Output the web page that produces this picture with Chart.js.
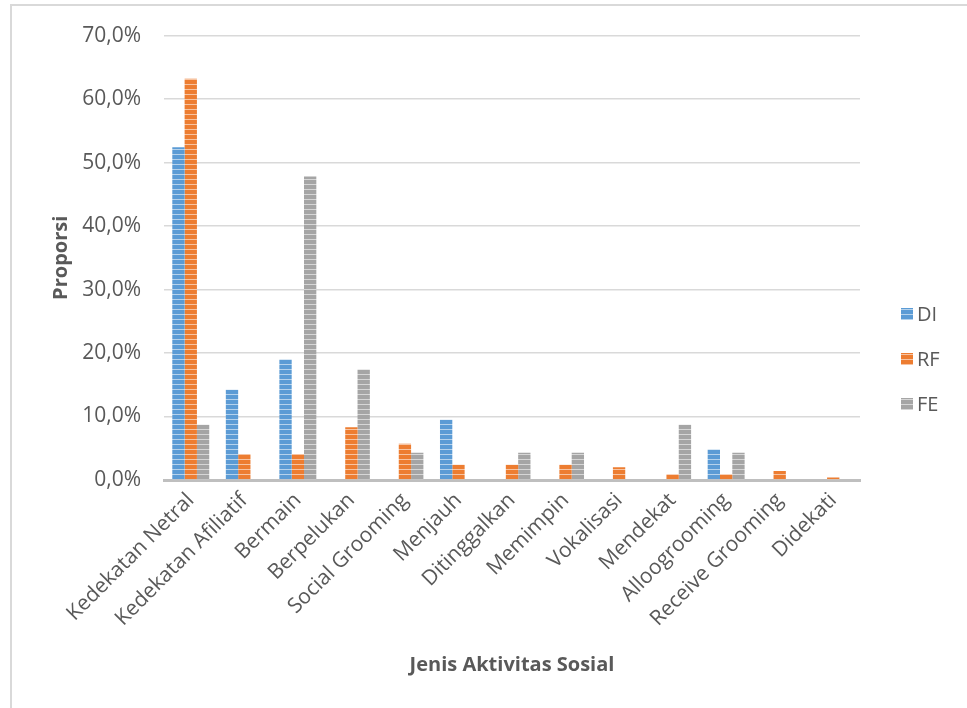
<!DOCTYPE html>
<html>
<head>
<meta charset="utf-8">
<script src="https://cdn.jsdelivr.net/npm/chart.js@4"></script>
<style>
html,body{margin:0;padding:0;background:#fff;}
#wrap{position:relative;width:967px;height:708px;}
canvas{display:block;}
</style>
</head>
<body>
<div id="wrap"><canvas id="c" width="967" height="708"></canvas></div>
<script>
const categories = ["Kedekatan Netral","Kedekatan Afiliatif","Bermain","Berpelukan","Social Grooming","Menjauh","Ditinggalkan","Memimpin","Vokalisasi","Mendekat","Alloogrooming","Receive Grooming","Didekati"];
const seriesNames = ["DI","RF","FE"];
const valuesDI = [52.4, 14.2, 19.0, 0, 0, 9.5, 0, 0, 0, 0, 4.8, 0, 0];
const valuesRF = [63.2, 4.1, 4.1, 8.3, 5.7, 2.4, 2.4, 2.4, 2.0, 0.9, 0.9, 1.4, 0.4];
const valuesFE = [8.7, 0, 47.8, 17.4, 4.3, 0, 4.3, 4.3, 0, 8.7, 4.3, 0, 0];
const yTicks = [0,10,20,30,40,50,60,70];
const colors = ["#5b9bd5","#ed7d31","#a5a5a5"];

function stripe(color){
  const p = document.createElement('canvas');
  p.width = 6; p.height = 5;
  const g = p.getContext('2d');
  g.fillStyle = color; g.fillRect(0,0,6,5);
  g.fillStyle = 'rgba(255,255,255,0.55)'; g.fillRect(0,4,6,1);
  return g.createPattern(p,'repeat');
}
const ctx = document.getElementById('c').getContext('2d');
const patterns = colors.map(stripe);
const FONT = "'Open Sans', 'DejaVu Sans', sans-serif";

const framePlugin = {
  id:'frame',
  beforeDraw(chart){
    const c = chart.ctx;
    c.save();
    c.fillStyle = '#fff'; c.fillRect(0,0,chart.width,chart.height);
    c.strokeStyle = '#d9d9d9'; c.lineWidth = 2;
    c.beginPath(); c.moveTo(11,708); c.lineTo(11,5); c.lineTo(967,5); c.stroke();
    c.restore();
  },
  afterDraw(chart){
    const c = chart.ctx;
    c.save();
    c.font = "20px " + FONT;
    c.textBaseline = 'middle';
    const ys = [314, 359, 404];
    seriesNames.forEach((n,i)=>{
      c.fillStyle = patterns[i];
      c.fillRect(901, ys[i]-6, 12, 12);
      c.fillStyle = '#595959';
      c.fillText(n, 917, ys[i]+1);
    });
    c.restore();
  }
};

new Chart(ctx, {
  type:'bar',
  data:{
    labels: categories,
    datasets:[
      {label:seriesNames[0], data:valuesDI, backgroundColor:patterns[0]},
      {label:seriesNames[1], data:valuesRF, backgroundColor:patterns[1]},
      {label:seriesNames[2], data:valuesFE, backgroundColor:patterns[2]}
    ]
  },
  options:{
    responsive:false,
    animation:false,
    devicePixelRatio:1,
    layout:{padding:{left:0,right:107,top:34,bottom:0}},
    datasets:{bar:{categoryPercentage:0.69, barPercentage:1}},
    plugins:{legend:{display:false}, tooltip:{enabled:false}},
    scales:{
      x:{
        grid:{display:false, drawTicks:false},
        border:{display:true, color:'#bfbfbf', width:3},
        ticks:{color:'#595959', font:{family:FONT, size:21}, maxRotation:45, minRotation:45, autoSkip:false, padding:8},
        title:{display:true, text:'Jenis Aktivitas Sosial', color:'#595959', font:{family:FONT, size:20, weight:'bold'}, padding:{top:0,bottom:31}},
        afterFit(s){ s.height = 228; }
      },
      y:{
        min:0, max:70,
        afterBuildTicks(s){ s.ticks = yTicks.map(v=>({value:v})); },
        grid:{color:'#d9d9d9', lineWidth:1.5, drawTicks:false},
        border:{display:false},
        ticks:{color:'#595959', font:{family:FONT, size:21}, padding:23,
          callback:(v)=>v.toFixed(1).replace('.',',')+'%'},
        title:{display:true, text:'Proporsi', color:'#595959', font:{family:FONT, size:20, weight:'bold'}, padding:{top:49,bottom:0}},
        afterFit(s){ s.width = 164; }
      }
    }
  },
  plugins:[framePlugin]
});
</script>
</body>
</html>
